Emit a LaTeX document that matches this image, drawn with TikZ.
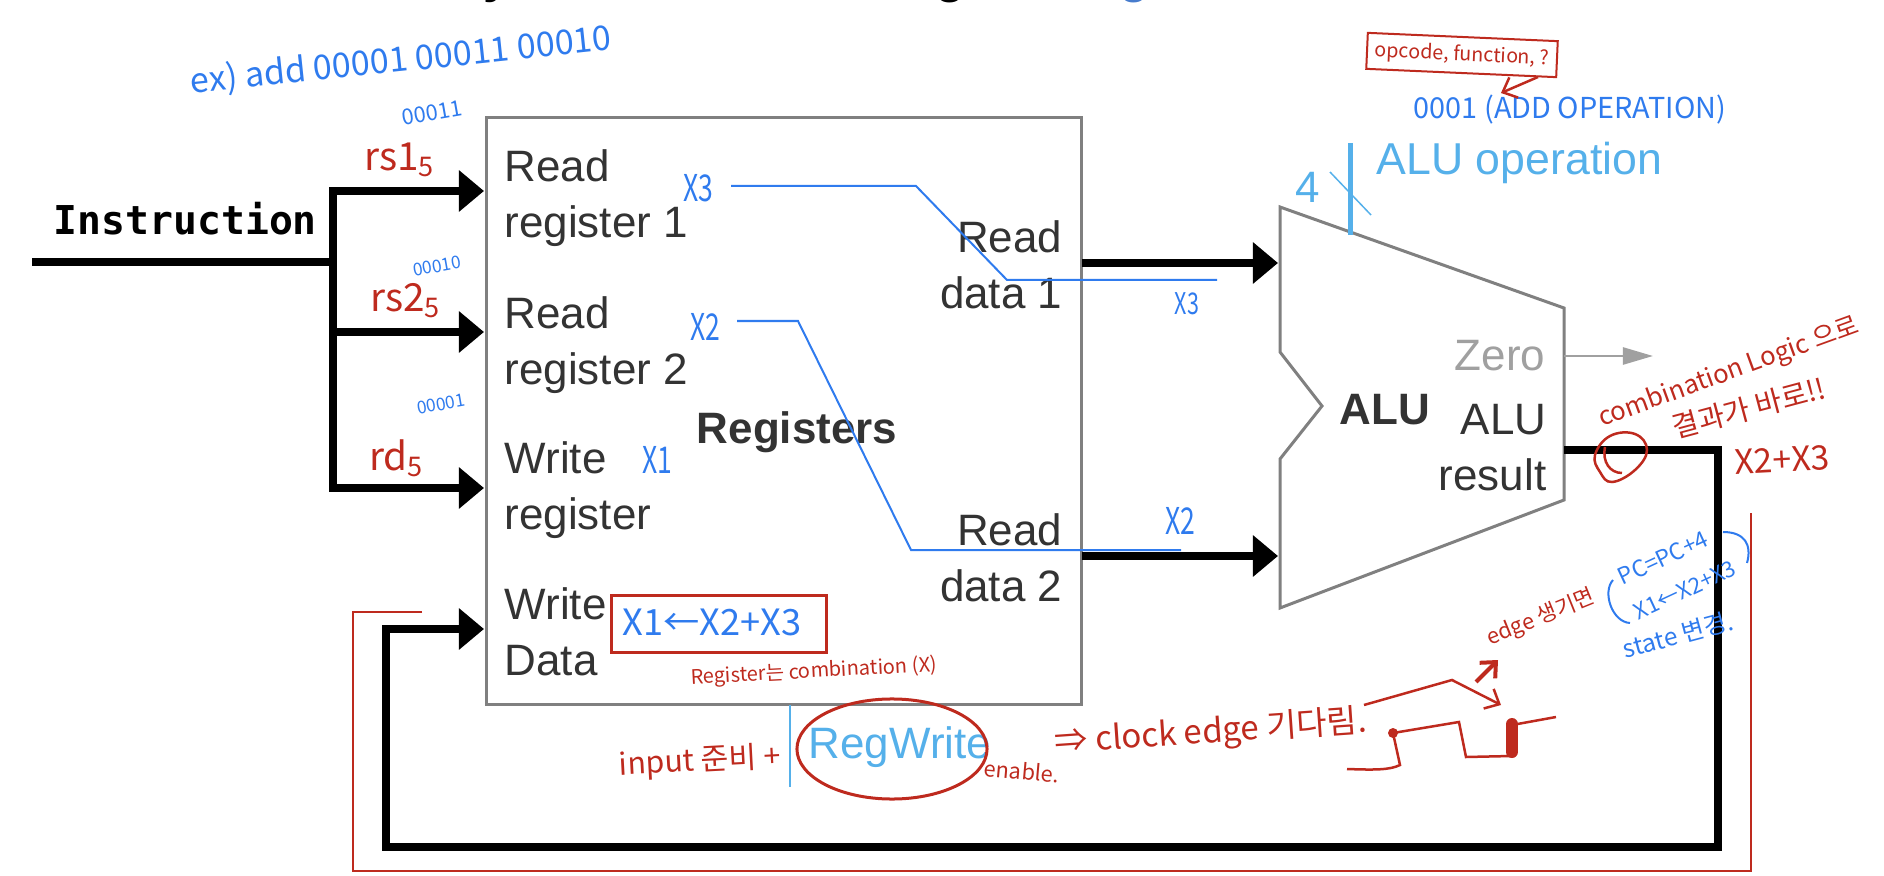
\documentclass[tikz,border=0pt]{standalone}
\usepackage{fontspec}
\setmainfont{Liberation Sans}
\newfontfamily\hand{Noto Sans CJK KR}
\newfontfamily\instr{DejaVu Sans Mono}
\usetikzlibrary{arrows.meta,positioning,shapes.geometric,calc}
\definecolor{redink}{HTML}{BE2A1E}
\definecolor{blueink}{HTML}{2F7BEE}
\definecolor{skyink}{HTML}{55B0EA}
\definecolor{labelgray}{HTML}{333333}
\definecolor{edgegray}{HTML}{808080}
\definecolor{zerogray}{HTML}{A0A0A0}
\tikzset{
  fat/.style={line width=0.085cm,line join=miter,-{Triangle[length=0.25cm,width=0.4cm]}},
  bus/.style={line width=0.085cm,line join=miter},
  lab/.style={inner sep=0,text=labelgray,font=\fontsize{12.5}{15.9}\selectfont,align=#1},
  lab/.default=left,
  hr/.style={inner sep=0,text=redink,font=\hand\fontsize{#1}{#1}\selectfont},
  hb/.style={inner sep=0,text=blueink,font=\hand\fontsize{#1}{#1}\selectfont},
  tall/.style={xscale=0.72,transform shape},
  redline/.style={redink,line width=0.025cm},
  blueline/.style={blueink,line width=0.02cm},
  barb/.style={-{Straight Barb[length=0.12cm,width=0.22cm]}}
}
\begin{document}
\begin{tikzpicture}[x=0.01cm,y=-0.01cm,>={Stealth}]
\useasboundingbox (0,0) rectangle (1884,876);
\node[anchor=base,font=\bfseries\fontsize{14}{14}\selectfont] (ta) at (497,-7) {y};
\node[anchor=base,font=\bfseries\fontsize{14}{14}\selectfont] (tb) at (951,-7) {g};
\node[anchor=base,text=blueink!70!gray,font=\bfseries\fontsize{14}{14}\selectfont] (tc) at (1135,-7) {g};

\node[draw=edgegray,line width=0.03cm,minimum width=5.94cm,minimum height=5.86cm,inner sep=0] (r) at (784,411) {};
\node[lab,anchor=west] (ra) at (504,198) {Read\\register 1};
\node[lab,anchor=west] (rb) at (504,345) {Read\\register 2};
\node[lab,anchor=west] (wr) at (504,490) {Write\\register};
\node[lab,anchor=west] (wd) at (504,632) {Write\\Data};
\node[lab=right,anchor=east] (da) at (1063,265) {Read\\data 1};
\node[lab=right,anchor=east] (db) at (1063,558) {Read\\data 2};
\node[inner sep=0,text=labelgray,font=\bfseries\fontsize{12.5}{15}\selectfont] (rn) at (797,432) {Registers};

\node[anchor=base west,inner sep=0,font=\instr\bfseries\fontsize{11.3}{13}\selectfont] (in) at (53,235) {Instruction};
\coordinate (i0) at (32,262); \coordinate (j0) at (333,262);
\coordinate (j1) at (333,191); \coordinate (j3) at (333,488);
\draw[bus] (i0) -- (j0);
\draw[bus] (j1) -- (j3);
\foreach \n/\y in {a/191,b/332,c/488} {
  \coordinate (s\n) at (329,\y); \coordinate (p\n) at (484,\y);
  \draw[fat] (s\n) -- (p\n);
}

\draw[edgegray,line width=0.03cm,fill=white] (1280,207) -- (1564,308) -- (1564,500) -- (1280,608) -- (1280,459) -- (1322,406) -- (1280,352) -- cycle;
\node[anchor=base,inner sep=0,text=labelgray,font=\bfseries\fontsize{12.5}{15}\selectfont] (alu) at (1385,425) {ALU};
\node[anchor=base east,inner sep=0,text=zerogray,font=\fontsize{12.5}{15}\selectfont] (ze) at (1546,370) {Zero};
\node[lab=right,anchor=east] (res) at (1547,448) {ALU\\result};
\coordinate (oa) at (1082,263); \coordinate (ia) at (1278,263);
\coordinate (ob) at (1082,556); \coordinate (ib) at (1278,556);
\draw[fat] (oa) -- (ia); \draw[fat] (ob) -- (ib);
\coordinate (z0) at (1564,356); \coordinate (z1) at (1653,356);
\draw[zerogray,line width=0.025cm,-{Triangle[length=0.3cm,width=0.17cm]}] (z0) -- (z1);

\coordinate (f0) at (1564,450); \coordinate (fi) at (484,629);
\draw[fat] (f0) -- (1718,450) -- (1718,847) -- (386,847) -- (386,629) -- (fi);

\coordinate (o0) at (1350,143); \coordinate (o1) at (1350,235);
\coordinate (c0) at (1330,172); \coordinate (c1) at (1371,215);
\draw[skyink,line width=0.05cm] (o0) -- (o1);
\draw[skyink,line width=0.015cm] (c0) -- (c1);
\node[anchor=base,inner sep=0,text=skyink,font=\fontsize{12.5}{15}\selectfont] (four) at (1308,203) {4};
\node[anchor=base west,inner sep=0,text=skyink,font=\fontsize{12.7}{15}\selectfont] (aop) at (1376,175) {ALU operation};

\coordinate (w0) at (790,705); \coordinate (w1) at (790,787);
\draw[skyink,line width=0.02cm] (w0) -- (w1);
\node[anchor=base,inner sep=0,text=skyink,font=\fontsize{12.5}{15}\selectfont] (rw) at (900,758) {RegWrite};
\node[draw=redink,ellipse,line width=0.03cm,minimum width=1.9cm,minimum height=1cm,inner sep=0] (rc) at (892,749) {};

\coordinate (xa) at (731,186); \coordinate (xb) at (1217,280);
\coordinate (ya) at (737,321); \coordinate (yb) at (1181,550);
\draw[blueline] (xa) -- (916,186) -- (1007,280) -- (xb);
\draw[blueline] (ya) -- (798,321) -- (911,550) -- (yb);

\node[hb=9.7,rotate=6] (ex) at (401,61) {ex) add 00001 00011 00010};
\node[hb=6.2,rotate=10] (na) at (432,113) {00011};
\node[hb=5,rotate=10] (nb) at (437,266) {00010};
\node[hb=5,rotate=10] (nc) at (441,404) {00001};
\node[hr=11] (rs1) at (400,160) {rs1\textsubscript{5}};
\node[hr=11] (rs2) at (406,301) {rs2\textsubscript{5}};
\node[hr=11] (rd) at (397,458) {rd\textsubscript{5}};
\node[hb=10.5,tall] (x3) at (698,188) {X3};
\node[hb=10.5,tall] (x2) at (705,327) {X2};
\node[hb=10.5,tall] (x1) at (657,460) {X1};
\node[hb=8.5,tall] (x3b) at (1187,304) {X3};
\node[hb=10.5,tall] (x2b) at (1180,521) {X2};

\node[draw=redink,line width=0.03cm,minimum width=2.14cm,minimum height=0.56cm,inner sep=0] (sumbox) at (719,624) {};
\node[hb=10.3] (sum) at (712,622) {X1←X2+X3};
\node[hr=5.7,rotate=3] (cm) at (814,672) {Register는 combination (X)};
\node[hr=8.6,rotate=3] (ip) at (700,762) {input 준비 +};
\node[hr=6.2,rotate=-5] (en) at (1022,771) {enable.};
\node[hr=9.4,rotate=4] (ck) at (1211,733) {⇒ clock edge 기다림.};
\node[hr=6.2,rotate=22] (eg) at (1541,618) {edge 생기면};
\node[hb=6.5,rotate=25] (pc) at (1663,558) {PC=PC+4};
\node[hb=6.3,rotate=25] (xs) at (1685,590) {X1←X2+X3};
\node[hb=7,rotate=15] (st) at (1678,635) {state 변경.};
\node[hr=9.6,rotate=3] (xr) at (1782,460) {X2+X3};
\node[hr=7.3,rotate=20] (cl) at (1729,373) {combination Logic 으로};
\node[hr=8.2,rotate=15] (gr) at (1749,408) {결과가 바로!!};
\node[hr=5.6,draw=redink,line width=0.02cm,rotate=-2.5,minimum width=1.9cm,minimum height=0.36cm] (op) at (1462,55) {opcode, function, ?};
\node[hb=8.2] (ad) at (1570,110) {0001 (ADD OPERATION)};

\coordinate (aa) at (1538,77); \coordinate (ab) at (1501,93);
\draw[redline,barb] (aa) -- (ab);
\coordinate (b0) at (422,612); \coordinate (b1) at (1751,513);
\draw[redline] (b0) -- (353,612) -- (353,871) -- (1751,871) -- (b1);
\draw[redline,smooth cycle,tension=0.7] plot coordinates {(1595,455) (1610,436) (1635,434) (1647,450) (1635,470) (1612,482) (1600,472)};
\draw[redline] (1605,447) .. controls (1602,462) and (1610,473) .. (1622,473);
\coordinate (e0) at (1364,705); \coordinate (e1) at (1501,705);
\draw[redline,barb] (e0) -- (1452,680) -- (e1);
\coordinate (g0) at (1476,682); \coordinate (g1) at (1498,660);
\draw[redline,line width=0.04cm,barb] (g0) -- (g1);
\coordinate (k0) at (1347,769); \coordinate (k1) at (1556,717);
\draw[redline] (k0) .. controls (1375,770) and (1390,770) .. (1400,765) -- (1393,733) -- (1459,722) -- (1466,757) -- (1512,756);
\draw[redink,line width=0.12cm,line cap=round] (1512,724) -- (1512,752);
\draw[redline] (1512,725) -- (k1);
\fill[redink] (1393,733) circle (5);

\draw[blueline] (1613,580) .. controls (1602,592) and (1612,622) .. (1630,623);
\draw[blueline] (1723,532) .. controls (1745,532) and (1752,545) .. (1747,563);
\end{tikzpicture}
\end{document}
